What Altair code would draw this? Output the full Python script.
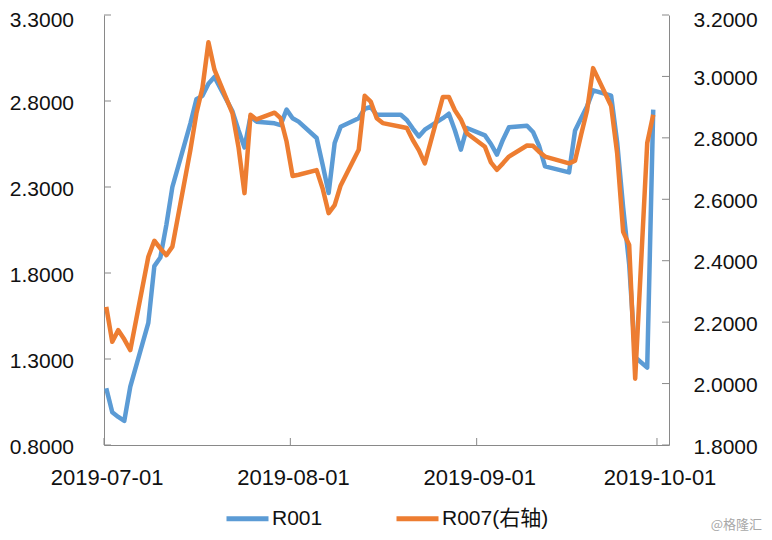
import altair as alt
import pandas as pd

# ---------------- data ----------------
dates = [
    "2019-07-01", "2019-07-02", "2019-07-03", "2019-07-04", "2019-07-05",
    "2019-07-08", "2019-07-09", "2019-07-10", "2019-07-11", "2019-07-12",
    "2019-07-15", "2019-07-16", "2019-07-17", "2019-07-18", "2019-07-19",
    "2019-07-22", "2019-07-23", "2019-07-24", "2019-07-25", "2019-07-26",
    "2019-07-29", "2019-07-30", "2019-07-31",
    "2019-08-01", "2019-08-02",
    "2019-08-05", "2019-08-06", "2019-08-07", "2019-08-08", "2019-08-09",
    "2019-08-12", "2019-08-13", "2019-08-14", "2019-08-15", "2019-08-16",
    "2019-08-19", "2019-08-20", "2019-08-21", "2019-08-22", "2019-08-23",
    "2019-08-26", "2019-08-27", "2019-08-28", "2019-08-29", "2019-08-30",
    "2019-09-02", "2019-09-03", "2019-09-04", "2019-09-05", "2019-09-06",
    "2019-09-09", "2019-09-10", "2019-09-11", "2019-09-12",
    "2019-09-16", "2019-09-17", "2019-09-18", "2019-09-19", "2019-09-20",
    "2019-09-23", "2019-09-24", "2019-09-25", "2019-09-26", "2019-09-27",
    "2019-09-29", "2019-09-30",
]

r001 = [
    1.13, 0.99, 0.963, 0.94, 1.14, 1.51, 1.84, 1.89, 2.08, 2.30,
    2.67, 2.81, 2.83, 2.90, 2.94, 2.74, 2.63, 2.53, 2.71, 2.68,
    2.67, 2.66, 2.75,
    2.70, 2.68, 2.585, 2.43, 2.265, 2.556, 2.65, 2.70, 2.755, 2.765,
    2.72, 2.72, 2.72, 2.69, 2.64, 2.594, 2.633, 2.70, 2.726, 2.63,
    2.517, 2.643,
    2.60, 2.55, 2.488, 2.575, 2.647, 2.656, 2.62, 2.54, 2.42, 2.385,
    2.629, 2.70, 2.77, 2.862, 2.831, 2.56, 2.18, 1.85, 1.31, 1.25, 2.75,
]

r007 = [
    2.250, 2.136, 2.174, 2.144, 2.109, 2.413, 2.465, 2.44, 2.418, 2.446,
    2.761, 2.88, 2.962, 3.111, 3.022, 2.88, 2.77, 2.62, 2.875, 2.86,
    2.882, 2.864, 2.788,
    2.676, 2.68, 2.695, 2.635, 2.555, 2.581, 2.645, 2.761, 2.937, 2.918,
    2.864, 2.848, 2.836, 2.832, 2.793, 2.76, 2.717, 2.933, 2.933, 2.89,
    2.86, 2.815,
    2.771, 2.72, 2.696, 2.717, 2.739, 2.775, 2.774, 2.755, 2.739, 2.717,
    2.726, 2.81, 2.89, 3.027, 2.904, 2.75, 2.494, 2.451, 2.016, 2.783, 2.875,
]

series_names = ["R001", "R007(右轴)"]
x_tick_dates = ["2019-07-01", "2019-08-01", "2019-09-01", "2019-10-01"]
left_ticks = [0.8, 1.3, 1.8, 2.3, 2.8, 3.3]
right_ticks = [1.8, 2.0, 2.2, 2.4, 2.6, 2.8, 3.0, 3.2]
watermark = ["@格隆汇"]

# ---------------- styling ----------------
W, H = 565, 430
FONT = "Liberation Sans, Arial, 'Noto Sans CJK SC', sans-serif"
GRAY = "#898989"
BLUE = "#5B9BD5"
ORANGE = "#ED7D31"
TXT = "#111111"

df = pd.DataFrame({
    "date": [d + "T09:00:00" for d in dates],
    "R001": r001,
    "R007": r007,
})
xt_df = pd.DataFrame({"date": [d + "T00:00:00" for d in x_tick_dates]})
lt_df = pd.DataFrame({"R001": left_ticks})
rt_df = pd.DataFrame({"R007": right_ticks})
wm_df = pd.DataFrame({"w": watermark})


def dt(s):
    y, m, d = s.split("-")
    return alt.DateTime(year=int(y), month=int(m), date=int(d))


x_scale = alt.Scale(domain=[dt("2019-07-01"), dt("2019-10-03")])
x_axis = alt.Axis(
    values=[dt(s) for s in x_tick_dates],
    format="%Y-%m-%d",
    labelOffset=2.6,
    labelPadding=22,
    labelFlush=False,
    labelOverlap=False,
    ticks=False,
    tickSize=0,
    grid=False,
    title=None,
    domainColor=GRAY,
    domainWidth=1,
    labelFont=FONT,
    labelFontSize=22,
    labelColor=TXT,
)
x_enc = alt.X("date:T", scale=x_scale, axis=x_axis)

left_scale = alt.Scale(domain=[0.8, 3.3], nice=False, zero=False)
right_scale = alt.Scale(domain=[1.8, 3.2], nice=False, zero=False)

left_axis = alt.Axis(
    orient="left",
    values=left_ticks,
    format=".4f",
    ticks=False,
    tickSize=0,
    labelPadding=30.5,
    labelOffset={"expr": f"datum.value >= {left_ticks[-1]} ? 5 : 2"},
    grid=False,
    title=None,
    domainColor=GRAY,
    domainWidth=1,
    labelFont=FONT,
    labelFontSize=21,
    labelColor=TXT,
    labelFlush=False,
    labelOverlap=False,
)
right_axis = alt.Axis(
    orient="right",
    values=right_ticks,
    format=".4f",
    ticks=False,
    tickSize=0,
    labelPadding=24,
    labelOffset={"expr": f"datum.value >= {right_ticks[-1]} ? 5 : 2"},
    grid=False,
    title=None,
    domainColor=GRAY,
    domainWidth=1,
    labelFont=FONT,
    labelFontSize=21,
    labelColor=TXT,
    labelFlush=False,
    labelOverlap=False,
)

color_scale = alt.Scale(domain=series_names, range=[BLUE, ORANGE])

legend = alt.Legend(
    orient="none",
    legendX=120,
    legendY=480,
    direction="horizontal",
    columns=2,
    title=None,
    symbolType="stroke",
    symbolSize=1764,
    symbolStrokeWidth=5,
    labelFont=FONT,
    labelFontSize=21,
    labelColor=TXT,
    labelOffset=1,
    columnPadding=63,
)

color_enc = alt.Color("series:N", scale=color_scale, legend=legend)

blue_line = (
    alt.Chart(df)
    .transform_calculate(series=f"'{series_names[0]}'")
    .mark_line(strokeWidth=4.5, strokeJoin="round")
    .encode(
        x=x_enc,
        y=alt.Y("R001:Q", scale=left_scale, axis=left_axis),
        color=color_enc,
    )
)

left_tick_marks = alt.Chart(lt_df).mark_rule(color=GRAY, strokeWidth=1).encode(
    y=alt.Y("R001:Q", scale=left_scale, axis=left_axis),
    x=alt.value(0),
    x2=alt.value(7),
)

orange_line = (
    alt.Chart(df)
    .transform_calculate(series=f"'{series_names[1]}'")
    .mark_line(strokeWidth=4.5, strokeJoin="round")
    .encode(
        x=x_enc,
        y=alt.Y("R007:Q", scale=right_scale, axis=right_axis),
        color=color_enc,
    )
)

right_tick_marks = alt.Chart(rt_df).mark_rule(color=GRAY, strokeWidth=1).encode(
    y=alt.Y("R007:Q", scale=right_scale, axis=right_axis),
    x=alt.value(W - 7),
    x2=alt.value(W),
)

x_tick_marks = alt.Chart(xt_df).mark_rule(color=GRAY, strokeWidth=1).encode(
    x=x_enc,
    y=alt.value(H - 7),
    y2=alt.value(H),
)

wm = alt.Chart(wm_df).mark_text(
    align="right", baseline="middle", fontSize=13, color="#a8a8a8",
    font="'Noto Sans CJK SC', sans-serif",
).encode(text="w:N", x=alt.value(658), y=alt.value(510))

left_layer = alt.layer(blue_line, left_tick_marks)
right_layer = alt.layer(orange_line, right_tick_marks)

chart = (
    alt.layer(left_layer, right_layer, x_tick_marks, wm)
    .resolve_scale(y="independent")
    .properties(
        width=W,
        height=H,
        autosize=alt.AutoSizeParams(type="none"),
        padding={"left": 96, "top": 7, "right": 95, "bottom": 87},
        background="white",
    )
    .configure_view(stroke=None)
)

chart.save("out.html", embed_options={"renderer": "svg", "actions": False})
